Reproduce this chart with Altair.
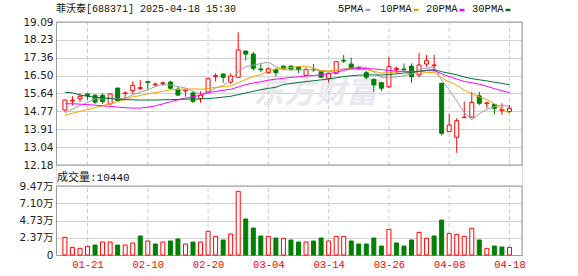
import json
import altair as alt
import pandas as pd

# ---------------- data ----------------
candle_open = [14.84, 15.27, 15.38, 15.61, 15.55, 15.55, 15.13, 15.90, 15.64, 15.77,
               15.88, 16.21, 16.06, 16.12, 16.19, 15.84, 15.76, 15.66, 15.40, 15.71,
               16.45, 16.58, 16.19, 16.42, 17.69, 17.54, 16.82, 16.64, 16.80, 16.96,
               16.96, 16.92, 16.51, 16.81, 16.69, 16.37, 16.61, 17.24, 17.06, 16.88,
               16.64, 16.32, 16.16, 15.96, 16.80, 16.82, 16.96, 16.53, 17.06, 16.98,
               16.13, 13.79, 13.52, 14.47, 14.49, 15.52, 15.14, 15.11, 14.82, 14.76]
candle_high = [15.34, 15.50, 15.64, 15.63, 15.60, 15.63, 15.63, 15.90, 15.74, 16.22,
               16.29, 16.23, 16.16, 16.21, 16.25, 15.98, 15.82, 15.77, 15.74, 16.40,
               16.61, 16.58, 16.61, 18.59, 17.69, 17.65, 17.08, 16.90, 16.85, 16.98,
               16.98, 16.94, 16.90, 17.06, 16.71, 16.64, 17.19, 17.50, 17.37, 16.95,
               16.72, 16.35, 16.18, 17.40, 16.93, 17.09, 17.09, 17.60, 17.50, 17.50,
               16.13, 14.64, 14.44, 15.24, 15.72, 15.72, 15.24, 15.14, 15.16, 15.08]
candle_low = [14.76, 15.07, 15.22, 15.34, 15.13, 15.13, 15.10, 15.27, 15.34, 15.60,
              15.80, 15.80, 15.96, 16.00, 15.82, 15.52, 15.48, 15.17, 15.19, 15.64,
              16.21, 16.15, 16.10, 16.40, 17.22, 16.74, 16.67, 16.58, 16.45, 16.78,
              16.75, 16.62, 16.51, 16.69, 16.40, 16.16, 16.57, 17.10, 16.85, 16.77,
              16.32, 15.70, 15.74, 15.89, 16.61, 16.74, 16.15, 16.42, 16.93, 16.69,
              13.60, 13.79, 12.77, 14.47, 14.49, 15.08, 14.92, 14.63, 14.60, 14.71]
candle_close = [15.32, 15.31, 15.50, 15.54, 15.22, 15.25, 15.61, 15.29, 15.66, 16.03,
                15.92, 16.17, 16.09, 16.15, 15.89, 15.56, 15.80, 15.26, 15.56, 16.35,
                16.50, 16.42, 16.48, 17.74, 17.54, 16.85, 16.78, 16.83, 16.64, 16.83,
                16.80, 16.78, 16.80, 16.77, 16.42, 16.61, 17.17, 17.20, 16.85, 16.83,
                16.42, 16.05, 15.89, 16.93, 16.85, 16.78, 16.45, 17.01, 17.22, 17.01,
                13.71, 14.11, 14.32, 14.49, 15.21, 15.16, 15.18, 14.92, 14.87, 14.92]
volume = [24200, 10500, 9100, 11900, 13700, 17800, 17800, 13700, 13700, 16500,
          26100, 19200, 15100, 17800, 19200, 22000, 15100, 17800, 17800, 32500,
          25600, 20600, 28800, 87400, 49400, 37000, 26100, 25600, 23300, 22900,
          20600, 17800, 17800, 19200, 23300, 19200, 25600, 25600, 19200, 15100,
          15100, 23300, 12300, 35200, 16500, 12300, 20600, 31100, 22900, 26100,
          48000, 29700, 28300, 25600, 36600, 20600, 9100, 12300, 11000, 10440]
volume_up = [1, 1, 1, 1, 0, 1, 1, 0, 1, 1,
             0, 1, 0, 1, 0, 0, 1, 0, 1, 1,
             1, 0, 1, 1, 0, 0, 0, 1, 0, 1,
             0, 0, 1, 0, 0, 1, 1, 1, 0, 0,
             0, 0, 0, 1, 0, 0, 0, 1, 1, 0,
             0, 1, 1, 1, 1, 0, 1, 0, 0, 1]
# moving-average values before enough history exists in the window
ma5_head = [14.69, 14.88, 15.05, 15.20]
ma10_head = [14.58, 14.68, 14.77, 14.86, 14.95, 15.05, 15.14, 15.24, 15.34]
ma20_head = [15.14, 15.14, 15.12, 15.10, 15.07, 15.04, 15.01, 14.98, 14.95, 14.93,
             14.93, 14.97, 15.04, 15.13, 15.24, 15.33, 15.41, 15.48, 15.55]
ma30_head = [15.69, 15.67, 15.56, 15.50, 15.46, 15.42, 15.39, 15.36, 15.34, 15.33,
             15.32, 15.32, 15.32, 15.33, 15.34, 15.35, 15.36, 15.36, 15.37, 15.39,
             15.42, 15.46, 15.50, 15.58, 15.66, 15.74, 15.82, 15.88, 15.94]
ma_names = ["5PMA", "10PMA", "20PMA", "30PMA"]
ma_windows = [5, 10, 20, 30]
ma_colors = ["#a0a0a0", "#f5a300", "#ff00ff", "#00703c"]

tick_idx = [3, 11, 19, 27, 35, 43, 51, 59]
tick_labels = ["01-21", "02-10", "02-20", "03-04", "03-14", "03-26", "04-08", "04-18"]
price_ticks = [12.18, 13.04, 13.91, 14.77, 15.64, 16.50, 17.36, 18.23, 19.09]
vol_ticks = [0, 23700, 47300, 71000, 94700]
vol_tick_labels = ["0", "2.37万", "4.73万", "7.10万", "9.47万"]
title_text = "菲沃泰[688371] 2025-04-18 15:30"

# ---------------- tables ----------------
n = len(candle_close)
df = pd.DataFrame({
    "i": list(range(n)), "open": candle_open, "high": candle_high,
    "low": candle_low, "close": candle_close, "volume": volume,
})
df["dir"] = ["up" if c >= o else "down" for o, c in zip(candle_open, candle_close)]
df["vdir"] = ["up" if u else "down" for u in volume_up]

heads = [ma5_head, ma10_head, ma20_head, ma30_head]
s = pd.Series(candle_close)
rows = []
for name, w, head in zip(ma_names, ma_windows, heads):
    m = s.rolling(w).mean().tolist()
    m[: w - 1] = head
    for i, v in enumerate(m):
        rows.append({"i": i, "ma": name, "v": v})
ma_df = pd.DataFrame(rows)

p_lo, p_hi = price_ticks[0], price_ticks[-1]
v_lo, v_hi = vol_ticks[0], vol_ticks[-1]
ticks_df = pd.DataFrame({"i": tick_idx, "plo": p_lo, "phi": p_hi, "vlo": v_lo, "vhi": v_hi})

W, H = 466, 233
P_H = 143          # price panel height
V_TOP = 164        # volume panel top (px inside plot)

# ---------------- scales / axes ----------------
FONT = "'DejaVu Sans', 'Noto Sans CJK SC'"
MONO = "'Liberation Mono', 'Noto Sans CJK SC'"
xscale = alt.Scale(domain=[-0.52, 60.0], nice=False, zero=False)
x_expr = f"{json.dumps(tick_labels)}[indexof({json.dumps(tick_idx)}, datum.value)]"
xaxis = alt.Axis(values=tick_idx, labelExpr=x_expr, grid=False, ticks=False,
                 domainColor="#9a9a9a", labelColor="#ff0000", labelFont="'Liberation Mono'",
                 labelFontSize=10.5, labelPadding=4, title=None, labelFlush=False,
                 labelOverlap=False)
pscale = alt.Scale(domain=[p_lo, p_hi], range=[P_H, 0], nice=False, zero=False)
paxis = alt.Axis(values=price_ticks, format=".2f", orient="left", grid=True,
                 gridColor="#d2d2d2", ticks=False, domainColor="#9a9a9a",
                 labelFont=FONT, labelFontSize=10.5, labelColor="#222222",
                 labelPadding=3, title=None, labelOverlap=False, labelBound=False,
                 labelFlush=False)
vscale = alt.Scale(domain=[v_lo, v_hi], range=[H, V_TOP], nice=False, zero=True)
v_expr = f"{json.dumps(vol_tick_labels, ensure_ascii=False)}[indexof({json.dumps(vol_ticks)}, datum.value)]"
vaxis = alt.Axis(values=vol_ticks, labelExpr=v_expr, orient="left", grid=True,
                 gridColor="#d2d2d2", ticks=False, domainColor="#9a9a9a",
                 labelFont=FONT, labelFontSize=10.5, labelColor="#222222",
                 labelPadding=3, title=None, labelOverlap=False, labelBound=False,
                 labelFlush=False)
X = alt.X("i:Q", scale=xscale, axis=xaxis)
stroke_scale = alt.Scale(domain=["up", "down"], range=["#ff0000", "#008000"])
fill_scale = alt.Scale(domain=["up", "down"], range=["#ffffff", "#008000"])

# ---------------- price panel ----------------
one = pd.DataFrame({"a": [0]})
watermark = alt.Chart(one).mark_text(
    text="东方财富", align="left", baseline="middle", fontSize=31, fontWeight="bold",
    fontStyle="italic", font="'Noto Sans CJK SC'", color="#e8e8ee"
).encode(x=alt.value(197), y=alt.value(72))

pgrid = alt.Chart(ticks_df).mark_rule(color="#cccccc", strokeDash=[4, 3]).encode(
    x=X, y=alt.Y("plo:Q", scale=pscale, axis=paxis), y2="phi:Q")
wicks = alt.Chart(df).mark_rule(strokeWidth=1).encode(
    x=X, y=alt.Y("low:Q", scale=pscale, axis=paxis), y2="high:Q",
    stroke=alt.Stroke("dir:N", scale=stroke_scale, legend=None))
bodies = alt.Chart(df).mark_bar(size=4, strokeWidth=1).encode(
    x=X, y=alt.Y("open:Q", scale=pscale, axis=paxis), y2="close:Q",
    fill=alt.Fill("dir:N", scale=fill_scale, legend=None),
    stroke=alt.Stroke("dir:N", scale=stroke_scale, legend=None))
ma_lines = alt.Chart(ma_df).mark_line(strokeWidth=1).encode(
    x=X, y=alt.Y("v:Q", scale=pscale, axis=paxis),
    color=alt.Color("ma:N", scale=alt.Scale(domain=ma_names, range=ma_colors), legend=None),
    detail="ma:N")
price = alt.layer(watermark, pgrid, wicks, bodies, ma_lines)

# ---------------- volume panel ----------------
vgrid = alt.Chart(ticks_df).mark_rule(color="#cccccc", strokeDash=[4, 3]).encode(
    x=X, y=alt.Y("vlo:Q", scale=vscale, axis=vaxis), y2="vhi:Q")
vbars = alt.Chart(df).mark_bar(size=4, strokeWidth=1).encode(
    x=X, y=alt.Y("volume:Q", scale=vscale, axis=vaxis),
    fill=alt.Fill("vdir:N", scale=fill_scale, legend=None),
    stroke=alt.Stroke("vdir:N", scale=stroke_scale, legend=None))
vol = alt.layer(vgrid, vbars)

# ---------------- decorations: title, legend, frame ----------------
decor = []
decor.append(alt.Chart(one).mark_text(
    text=title_text, align="left", baseline="middle", fontSize=10,
    font=MONO, color="#111111").encode(x=alt.value(0), y=alt.value(-13)))
leg_x = [282, 324, 370, 416]
for name, col, lx in zip(ma_names, ma_colors, leg_x):
    decor.append(alt.Chart(one).mark_text(
        text=name, align="left", baseline="middle", fontSize=10.5,
        font="'Liberation Mono'", color="#111111").encode(x=alt.value(lx), y=alt.value(-13)))
    tw = 6.1 * len(name)
    decor.append(alt.Chart(one).mark_rule(color=col, strokeWidth=2.5).encode(
        x=alt.value(lx + tw + 3), x2=alt.value(lx + tw + 8), y=alt.value(-12)))
decor.append(alt.Chart(one).mark_text(
    text=f"成交量:{volume[-1]}", align="left", baseline="middle", fontSize=11,
    font=MONO, color="#111111").encode(x=alt.value(1), y=alt.value(156)))
for (x1, x2, y1, y2) in [(0, W, 0, 0), (0, W, P_H, P_H), (W, W, 0, P_H),
                         (0, W, V_TOP, V_TOP), (W, W, V_TOP, H)]:
    decor.append(alt.Chart(one).mark_rule(color="#9a9a9a", strokeWidth=1).encode(
        x=alt.value(x1), x2=alt.value(x2), y=alt.value(y1), y2=alt.value(y2)))

chart = alt.layer(price, vol, *decor).resolve_scale(y="independent").resolve_axis(
    y="independent"
).properties(
    width=W, height=H,
    padding={"left": 56, "top": 22, "right": 578 - 56 - W, "bottom": 276 - 22 - H},
    autosize=alt.AutoSizeParams(type="none"),
).configure_view(stroke=None).configure(background="#ffffff")

chart.save("out.html", embed_options={"renderer": "svg", "actions": False})
